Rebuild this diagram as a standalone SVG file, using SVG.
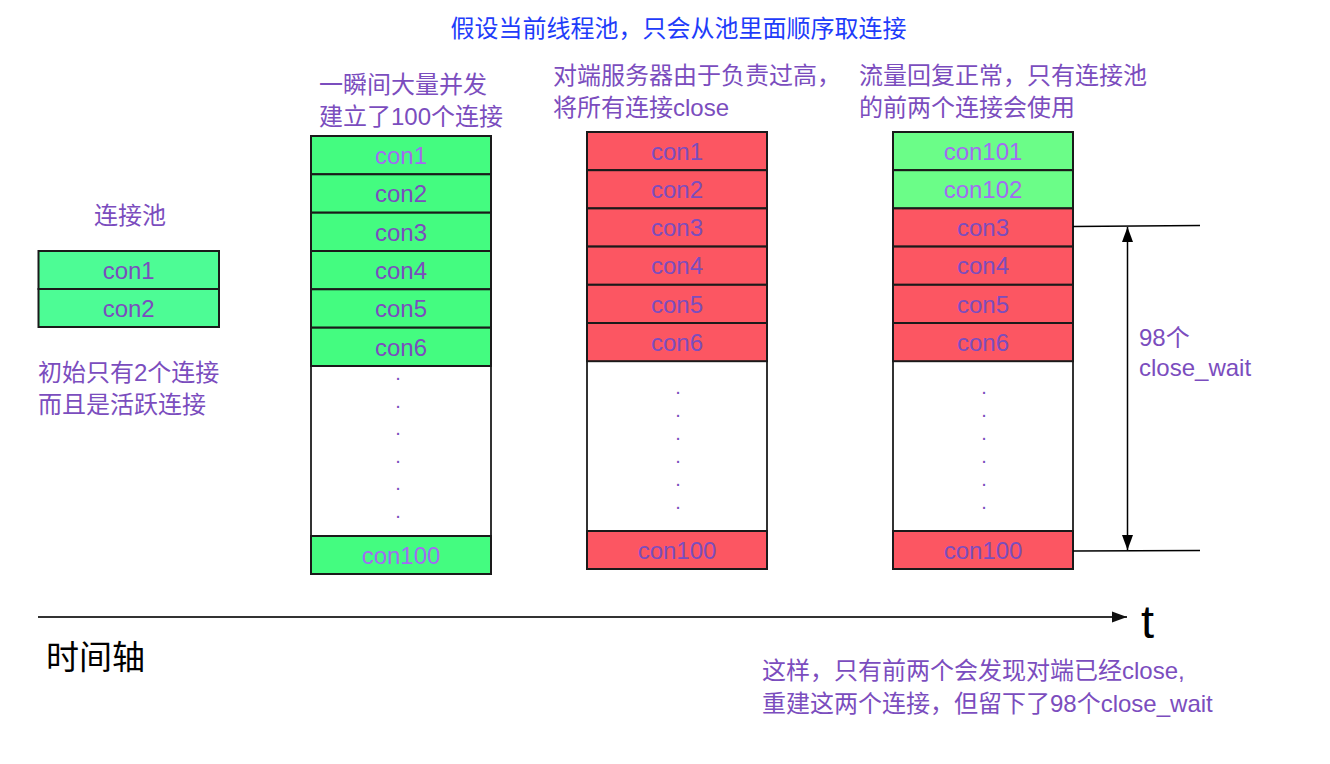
<svg xmlns="http://www.w3.org/2000/svg" width="1330" height="764" viewBox="0 0 1330 764">
<style>
  text { font-family: "Liberation Sans", "Noto Sans CJK SC", sans-serif; }
  .lbl { font-size: 24px; fill: #7B4DBE; }
  .title { font-size: 24px; fill: #1E3CFA; }
  .con { font-size: 24px; fill: #7B4DBE; text-anchor: middle; }
  .con.lt { fill: #A36BF2; }
  .dot { font-size: 20px; fill: #7B4DBE; text-anchor: middle; }
  .g1 { fill: #4DFC95; stroke: #1a1a1a; stroke-width: 2; }
  .g2 { fill: #44FC80; stroke: #1a1a1a; stroke-width: 2; }
  .g4 { fill: #6BFD88; stroke: #1a1a1a; stroke-width: 2; }
  .rd { fill: #FC5662; stroke: #1a1a1a; stroke-width: 2; }
  .blank { fill: #ffffff; stroke: #333333; stroke-width: 2; }
  .dim { stroke: #000000; stroke-width: 1.5; fill: none; }
</style>
<defs>
  <marker id="axisHead" markerUnits="userSpaceOnUse" markerWidth="16" markerHeight="12" refX="15" refY="6" orient="auto">
    <path d="M0,0.5 L15,6 L0,11.5 Z" fill="#111111"/>
  </marker>
  <marker id="dimHead" markerUnits="userSpaceOnUse" markerWidth="16" markerHeight="12" refX="15" refY="6" orient="auto-start-reverse">
    <path d="M0,0.5 L15,6 L0,11.5 Z" fill="#000000"/>
  </marker>
</defs>
<rect x="0" y="0" width="1330" height="764" fill="#ffffff"/>

<g id="title">
  <text class="title" x="450.5" y="36.5">假设当前线程池，只会从池里面顺序取连接</text>
</g>

<g id="pool-initial">
  <text class="lbl" x="94" y="223.5">连接池</text>
  <rect class="g1" x="38.5" y="251" width="180.5" height="38"/>
  <rect class="g1" x="38.5" y="289" width="180.5" height="38"/>
  <text class="con" x="128.7" y="278.5">con1</text>
  <text class="con" x="128.7" y="316.5">con2</text>
  <text class="lbl" x="38" y="380.5">初始只有2个连接</text>
  <text class="lbl" x="38" y="412.5">而且是活跃连接</text>
</g>

<g id="pool-burst">
  <text class="lbl" x="319" y="92.5">一瞬间大量并发</text>
  <text class="lbl" x="319" y="124.5">建立了100个连接</text>
  <rect class="blank" x="311" y="366" width="180" height="170"/>
  <rect class="g2" x="311" y="136" width="180" height="38.3"/>
  <rect class="g2" x="311" y="174.3" width="180" height="38.4"/>
  <rect class="g2" x="311" y="212.7" width="180" height="38.3"/>
  <rect class="g2" x="311" y="251" width="180" height="38.3"/>
  <rect class="g2" x="311" y="289.3" width="180" height="38.4"/>
  <rect class="g2" x="311" y="327.7" width="180" height="38.3"/>
  <rect class="g2" x="311" y="536" width="180" height="38"/>
  <text class="con lt" x="401" y="163.5">con1</text>
  <text class="con" x="401" y="202">con2</text>
  <text class="con" x="401" y="240.5">con3</text>
  <text class="con" x="401" y="278.5">con4</text>
  <text class="con" x="401" y="317">con5</text>
  <text class="con" x="401" y="355.5">con6</text>
  <text class="dot" x="398" y="380">.</text>
  <text class="dot" x="398" y="407.5">.</text>
  <text class="dot" x="398" y="435">.</text>
  <text class="dot" x="398" y="462.5">.</text>
  <text class="dot" x="398" y="490">.</text>
  <text class="dot" x="398" y="517.5">.</text>
  <text class="con lt" x="401" y="563.5">con100</text>
</g>

<g id="pool-closed">
  <text class="lbl" x="553" y="84">对端服务器由于负责过高，</text>
  <text class="lbl" x="553" y="115.5">将所有连接close</text>
  <rect class="blank" x="587" y="361" width="180" height="170"/>
  <rect class="rd" x="587" y="132" width="180" height="38.2"/>
  <rect class="rd" x="587" y="170.2" width="180" height="38.2"/>
  <rect class="rd" x="587" y="208.4" width="180" height="38.2"/>
  <rect class="rd" x="587" y="246.6" width="180" height="38.2"/>
  <rect class="rd" x="587" y="284.8" width="180" height="38.2"/>
  <rect class="rd" x="587" y="323" width="180" height="38.2"/>
  <rect class="rd" x="587" y="531" width="180" height="38"/>
  <text class="con" x="677" y="159.5">con1</text>
  <text class="con" x="677" y="197.8">con2</text>
  <text class="con" x="677" y="236">con3</text>
  <text class="con" x="677" y="274.2">con4</text>
  <text class="con" x="677" y="312.5">con5</text>
  <text class="con" x="677" y="350.5">con6</text>
  <text class="dot" x="678" y="394">.</text>
  <text class="dot" x="678" y="417">.</text>
  <text class="dot" x="678" y="440">.</text>
  <text class="dot" x="678" y="463">.</text>
  <text class="dot" x="678" y="486">.</text>
  <text class="dot" x="678" y="509">.</text>
  <text class="con" x="677" y="558.5">con100</text>
</g>

<g id="pool-recovered">
  <text class="lbl" x="859" y="84">流量回复正常，只有连接池</text>
  <text class="lbl" x="859" y="115.5">的前两个连接会使用</text>
  <rect class="blank" x="893" y="361" width="180" height="170"/>
  <rect class="g4" x="893" y="132" width="180" height="38.2"/>
  <rect class="g4" x="893" y="170.2" width="180" height="38.2"/>
  <rect class="rd" x="893" y="208.4" width="180" height="38.2"/>
  <rect class="rd" x="893" y="246.6" width="180" height="38.2"/>
  <rect class="rd" x="893" y="284.8" width="180" height="38.2"/>
  <rect class="rd" x="893" y="323" width="180" height="38.2"/>
  <rect class="rd" x="893" y="531" width="180" height="38"/>
  <text class="con lt" x="983" y="159.5">con101</text>
  <text class="con lt" x="983" y="197.8">con102</text>
  <text class="con" x="983" y="236">con3</text>
  <text class="con" x="983" y="274.2">con4</text>
  <text class="con" x="983" y="312.5">con5</text>
  <text class="con" x="983" y="350.5">con6</text>
  <text class="dot" x="984" y="394">.</text>
  <text class="dot" x="984" y="417">.</text>
  <text class="dot" x="984" y="440">.</text>
  <text class="dot" x="984" y="463">.</text>
  <text class="dot" x="984" y="486">.</text>
  <text class="dot" x="984" y="509">.</text>
  <text class="con" x="983" y="558.5">con100</text>
</g>

<g id="connectors">
  <line x1="38" y1="617" x2="1127" y2="617" stroke="#333333" stroke-width="2" marker-end="url(#axisHead)"/>
  <line class="dim" x1="1073" y1="226.5" x2="1200" y2="225.5"/>
  <line class="dim" x1="1073" y1="551" x2="1200" y2="550.5"/>
  <line class="dim" x1="1127.5" y1="227" x2="1127.5" y2="550" marker-start="url(#dimHead)" marker-end="url(#dimHead)"/>
</g>

<g id="dim-label">
  <text class="con" style="text-anchor:start" x="1139" y="345.5">98个</text>
  <text class="con" style="text-anchor:start" x="1139" y="376">close_wait</text>
</g>

<g id="axis-labels">
  <text x="1141" y="638" font-size="47" fill="#000000">t</text>
  <text x="46" y="668.5" font-size="33" fill="#000000">时间轴</text>
</g>

<g id="conclusion">
  <text class="lbl" x="762" y="679">这样，只有前两个会发现对端已经close,</text>
  <text class="lbl" x="762" y="712">重建这两个连接，但留下了98个close_wait</text>
</g>
</svg>
